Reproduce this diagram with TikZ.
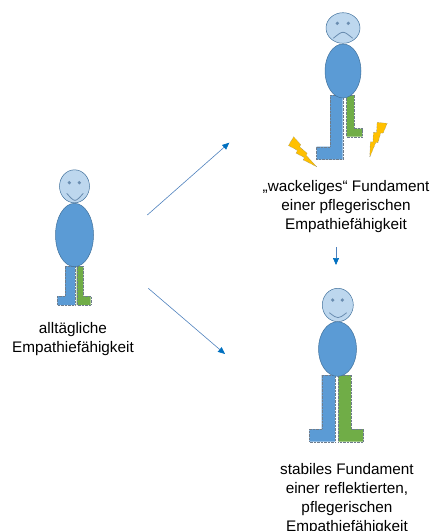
\documentclass[tikz,border=0pt]{standalone}
\usepackage{fontspec}
\setmainfont{Liberation Sans}
\usetikzlibrary{arrows.meta}
\definecolor{headfill}{HTML}{BDD7EE}
\definecolor{bodyfill}{HTML}{5B9BD5}
\definecolor{outline}{HTML}{41719C}
\definecolor{legblue}{HTML}{5B9BD5}
\definecolor{leggreen}{HTML}{70AD47}
\definecolor{face}{HTML}{6A8DB0}
\definecolor{dotline}{HTML}{6E7C8C}
\definecolor{boltfill}{HTML}{FFC000}
\definecolor{arrowline}{HTML}{4F81BD}
\definecolor{arrowtip}{HTML}{0070C0}
\tikzset{
  head/.style={fill=headfill, draw=outline, line width=0.5pt},
  torso/.style={fill=bodyfill, draw=outline, line width=0.5pt},
  blueleg/.style={fill=legblue, draw=dotline, densely dotted, line width=0.4pt},
  greenleg/.style={fill=leggreen, draw=dotline, densely dotted, line width=0.4pt},
  eye/.style={fill=face},
  mouth/.style={draw=face, line width=0.8pt},
  bolt/.style={fill=boltfill, draw=dotline, densely dotted, line width=0.4pt},
  flow/.style={draw=arrowline, line width=0.6pt,
    -{Triangle[width=6pt,length=7pt,color=arrowtip,fill=arrowtip]}},
  caption/.style={align=center, inner sep=0pt, anchor=north,
    font=\fontsize{15.3}{19}\selectfont}
}
% lightning bolt outline, centred on its long axis
\newcommand{\boltpath}{(-4.16,-19.65) -- (-12,-13.1) -- (-5,-5.61) -- (-7.38,-3.45)
  -- (-0.7,3.53) -- (-2.76,5.23) -- (8,16.35) -- (1.68,1.88) -- (3.34,0.4)
  -- (-1.8,-8.24) -- (0,-9.82) -- cycle}
\begin{document}
\begin{tikzpicture}[x=1pt, y=-1pt]
\useasboundingbox (0,0) rectangle (438,531);

% ---- left figure: everyday empathy
\draw[blueleg] (65,266) -- (75,266) -- (75,305) -- (57.3,305) -- (57.3,296) -- (65,296) -- cycle;
\draw[greenleg] (76.7,266) -- (83.3,266) -- (83.3,296) -- (90.7,296) -- (90.7,305) -- (76.7,305) -- cycle;
\draw[torso] (74.5,235) ellipse [x radius=19, y radius=31.7];
\draw[head] (74.5,186.3) ellipse [x radius=15, y radius=16.5];
\fill[eye] (69.3,182.7) circle [radius=1.8];
\fill[eye] (79.3,182.7) circle [radius=1.8];
\draw[mouth] (66.7,193.3) .. controls (75,202.7) .. (83.3,193.3);
\node[caption] (everyday) at (73,322) {alltägliche\\Empathiefähigkeit};

% ---- top right figure: shaky foundation
\draw[blueleg] (330,95) -- (342.7,95) -- (342.7,159.5) -- (316.5,159.5) -- (316.5,146.7) -- (330,146.7) -- cycle;
\draw[greenleg] (346.5,95) -- (354,95) -- (354,128.5) -- (362.3,128.5) -- (362.3,136.7) -- (346.5,136.7) -- cycle;
\draw[torso] (343,71) ellipse [x radius=18, y radius=27];
\draw[head] (343,28) ellipse [x radius=17, y radius=15.3];
\fill[eye] (337.3,23.3) circle [radius=1.8];
\fill[eye] (348.3,23.3) circle [radius=1.8];
\draw[mouth] (333.3,38.3) .. controls (343,30.3) .. (352.7,38.3);
\begin{scope}[shift={(304,154)}, rotate=19]
  \draw[bolt] \boltpath;
\end{scope}
\begin{scope}[shift={(376,140)}, rotate=-46]
  \draw[bolt] \boltpath;
\end{scope}
\node[caption] (shaky) at (346,180.5) {„wackeliges“ Fundament\\einer pflegerischen\\Empathiefähigkeit};

% ---- bottom right figure: stable foundation
\draw[blueleg] (321.7,375) -- (335,375) -- (335,441.7) -- (309.3,441.7) -- (309.3,429) -- (321.7,429) -- cycle;
\draw[greenleg] (338.3,375) -- (351,375) -- (351,429) -- (363.3,429) -- (363.3,441.7) -- (338.3,441.7) -- cycle;
\draw[torso] (337.5,349) ellipse [x radius=19, y radius=27.3];
\draw[head] (337.8,305) ellipse [x radius=15.5, y radius=16.7];
\fill[eye] (332.7,300) circle [radius=1.8];
\fill[eye] (342.3,300) circle [radius=1.8];
\draw[mouth] (329.3,312.7) .. controls (338,319.3) .. (346.7,312.7);
\node[caption] (stable) at (347,463) {stabiles Fundament\\einer reflektierten,\\pflegerischen\\Empathiefähigkeit};

% ---- connectors
\coordinate (upfrom) at (147.3,215);
\coordinate (upto) at (229.3,142.7);
\coordinate (downfrom) at (148.3,288.3);
\coordinate (downto) at (225,354);
\coordinate (midfrom) at (336,247);
\coordinate (midto) at (336,265);
\draw[flow] (upfrom) -- (upto);
\draw[flow] (downfrom) -- (downto);
\draw[flow] (midfrom) -- (midto);
\end{tikzpicture}
\end{document}
